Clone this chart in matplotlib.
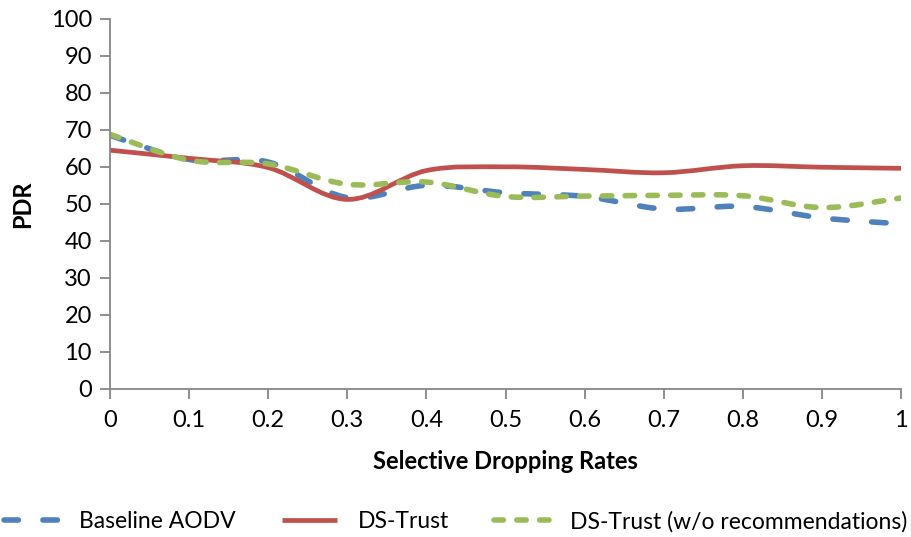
import numpy as np
import matplotlib
matplotlib.use("Agg")
import matplotlib.pyplot as plt
from matplotlib.path import Path
from matplotlib.patches import PathPatch
from matplotlib.lines import Line2D

plt.rcParams['font.family'] = ['Lato', 'DejaVu Sans']

rates = [0, 0.1, 0.2, 0.3, 0.4, 0.5, 0.6, 0.7, 0.8, 0.9, 1.0]
baseline_aodv = [68.5, 62.0, 61.3, 51.7, 55.0, 53.0, 52.0, 48.6, 49.3, 46.2, 44.6]
ds_trust = [64.5, 62.3, 59.8, 51.2, 59.0, 60.0, 59.3, 58.4, 60.3, 59.9, 59.6]
ds_trust_norec = [68.8, 61.8, 60.8, 55.3, 55.9, 52.0, 52.1, 52.3, 52.2, 49.0, 51.6]

series_names = ["Baseline AODV", "DS-Trust", "DS-Trust (w/o recommendations)"]
colors = ["#4F81BD", "#C0504D", "#9BBB59"]


def smooth_path(xs, ys):
    # Excel-style smoothed line: cubic Bezier segments, tangents from neighbours
    pts = np.column_stack([xs, ys]).astype(float)
    n = len(pts)
    verts = [pts[0]]
    codes = [Path.MOVETO]
    for i in range(n - 1):
        p0 = pts[i - 1] if i > 0 else pts[i]
        p1 = pts[i]
        p2 = pts[i + 1]
        p3 = pts[i + 2] if i + 2 < n else pts[i + 1]
        c1 = p1 + (p2 - p0) / 6.0
        c2 = p2 - (p3 - p1) / 6.0
        verts += [c1, c2, p2]
        codes += [Path.CURVE4] * 3
    return Path(verts, codes)


fig = plt.figure(figsize=(9.11, 5.37), dpi=100)
ax = fig.add_axes([0.1207, 0.2757, 0.8685, 0.6893])

styles = [
    dict(linestyle=(0, (2.6, 4.4)), linewidth=4.0),
    dict(linestyle="-", linewidth=3.4),
    dict(linestyle=(0, (1.7, 2.4)), linewidth=4.0),
]

for ys, col, st in zip([baseline_aodv, ds_trust, ds_trust_norec], colors, styles):
    patch = PathPatch(smooth_path(rates, ys), fill=False, edgecolor=col,
                      linewidth=st["linewidth"], linestyle=st["linestyle"],
                      capstyle="round", joinstyle="round")
    ax.add_patch(patch)

ax.set_xlim(0, 1)
ax.set_ylim(0, 100)
ax.set_xticks(rates)
ax.set_xticklabels(["0", "0.1", "0.2", "0.3", "0.4", "0.5", "0.6", "0.7", "0.8", "0.9", "1"])
ax.set_yticks(range(0, 101, 10))

axis_col = "#868686"
for side in ["top", "right"]:
    ax.spines[side].set_visible(False)
for side in ["left", "bottom"]:
    ax.spines[side].set_color(axis_col)
    ax.spines[side].set_linewidth(1.3)
ax.tick_params(axis="both", colors=axis_col, length=7, width=1.3,
               labelcolor="black", labelsize=17)
ax.tick_params(axis="x", pad=8)
ax.tick_params(axis="y", pad=6)

ax.set_xlabel("Selective Dropping Rates", fontsize=17, fontweight="bold", labelpad=14)
ax.set_ylabel("PDR", fontsize=17, fontweight="bold", labelpad=12)

handles = [Line2D([], [], color=c, linewidth=st["linewidth"], linestyle=st["linestyle"],
                  dash_capstyle="round", solid_capstyle="butt")
           for c, st in zip(colors, styles)]
fig.legend(handles, series_names, loc="lower center", bbox_to_anchor=(0.5, -0.03),
           ncol=3, frameon=False, fontsize=16.5, handlelength=2.4,
           handletextpad=0.9, columnspacing=2.0)

fig.savefig("out.png", dpi=100)
